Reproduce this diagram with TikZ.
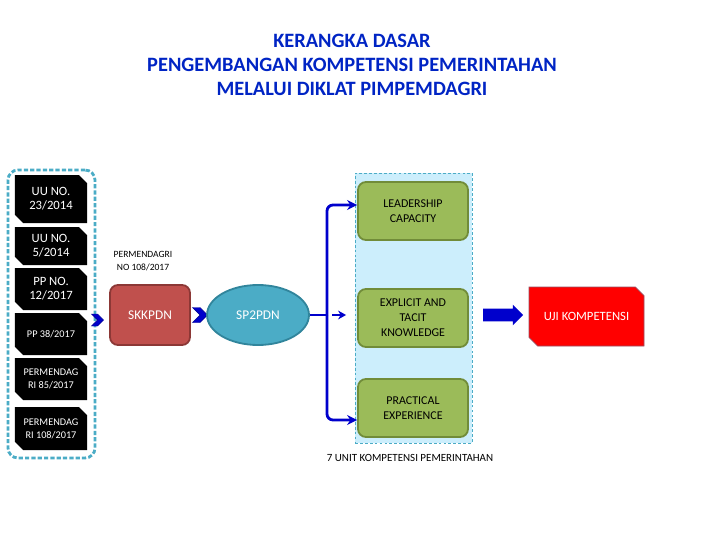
\documentclass[tikz,border=0pt]{standalone}
\usepackage{fontspec}
\setmainfont{Carlito}
\usetikzlibrary{positioning,arrows.meta,shapes.misc,shapes.symbols,shapes.arrows,shapes.geometric}
\definecolor{ttlblue}{RGB}{0,36,196}
\definecolor{frmcyan}{RGB}{75,172,198}
\definecolor{spdark}{RGB}{49,133,156}
\definecolor{brick}{RGB}{192,80,77}
\definecolor{brickdark}{RGB}{140,56,54}
\definecolor{olive}{RGB}{155,187,89}
\definecolor{olivedark}{RGB}{113,140,57}
\definecolor{paleaqua}{RGB}{204,238,252}
\definecolor{flowblue}{RGB}{0,0,204}
\definecolor{ujired}{RGB}{255,0,0}
\definecolor{ujiedge}{RGB}{150,80,100}
\tikzset{
  ttl/.style={font=\bfseries\fontsize{14.5}{17}\selectfont,text=ttlblue,align=center},
  frm/.style={draw=frmcyan,line width=2pt,dash pattern=on 3pt off 1.5pt,rounded corners=2.5mm,minimum width=21.75mm,minimum height=72mm},
  law/.style={chamfered rectangle,chamfered rectangle corners={north east,south west},chamfered rectangle angle=45,chamfered rectangle xsep=0.9mm,fill=black,text=white,minimum width=18mm,minimum height=10.5mm,inner sep=0pt,align=center,font=\fontsize{9}{10}\selectfont},
  lawsm/.style={law,font=\fontsize{7.3}{9.2}\selectfont},
  chev/.style={signal,signal to=east,signal from=west,fill=flowblue,draw=flowblue!70!black,line width=0.3pt,inner sep=0pt,minimum width=3.5mm,minimum height=3.75mm},
  lbl/.style={font=\fontsize{6.8}{9.2}\selectfont,align=center},
  skk/.style={draw=brickdark,fill=brick,line width=1.3pt,rounded corners=2mm,minimum width=20mm,minimum height=15mm,text=white,font=\fontsize{9.5}{11}\selectfont},
  sp/.style={ellipse,draw=spdark,fill=frmcyan,line width=1.3pt,minimum width=25.5mm,minimum height=15mm,inner sep=0pt,text=white,font=\fontsize{9.5}{11}\selectfont},
  panel/.style={draw=frmcyan,fill=paleaqua,line width=0.6pt,dash pattern=on 2pt off 1.5pt,minimum width=29.25mm,minimum height=67.5mm},
  unitbox/.style={draw=olivedark,fill=olive,line width=1.3pt,rounded corners=2mm,minimum width=27.5mm,minimum height=14.5mm,align=center,font=\fontsize{8.5}{10.7}\selectfont},
  caplbl/.style={font=\fontsize{7.8}{9}\selectfont},
  bigarrow/.style={single arrow,fill=flowblue,inner xsep=0pt,inner ysep=1.5mm,minimum height=10mm,single arrow head extend=1mm},
  uji/.style={chamfered rectangle,chamfered rectangle corners={north east,south west},chamfered rectangle angle=45,chamfered rectangle xsep=1.5mm,fill=ujired,draw=ujiedge,line width=0.5pt,minimum width=28.75mm,minimum height=14.75mm,inner sep=0pt,text=white,font=\fontsize{9}{11}\selectfont},
  flow/.style={draw=flowblue,line width=2pt}
}
\begin{document}
\begin{tikzpicture}[x=0.25mm,y=-0.25mm]
  \useasboundingbox (0,0) rectangle (720,540);
  \node[ttl] (title) at (352,65) {KERANGKA DASAR\\PENGEMBANGAN KOMPETENSI PEMERINTAHAN\\MELALUI DIKLAT PIMPEMDAGRI};
  % dasar hukum
  \node[frm] (hukum) at (51.5,314) {};
  \node[law,minimum height=12mm] (uu1) at (51,199) {UU NO.\\23/2014};
  \node[law,minimum height=9.5mm] (uu2) at (51,246) {UU NO.\\5/2014};
  \node[law] (pp1) at (51,289) {PP NO.\\12/2017};
  \node[lawsm] (pp2) at (51,334) {PP 38/2017};
  \node[lawsm] (pm1) at (51,379) {PERMENDAG\\RI 85/2017};
  \node[lawsm,minimum height=10.75mm] (pm2) at (51,428.5) {PERMENDAG\\RI 108/2017};
  \node[chev,minimum width=2.2mm,minimum height=3mm] (ch1) at (97.5,320) {};
  % standar
  \node[lbl] (permen) at (143,261.5) {PERMENDAGRI\\NO 108/2017};
  \node[skk] (skk) at (150,315) {SKKPDN};
  \node[chev] (ch2) at (200,315) {};
  \node[sp] (sp) at (258,315) {SP2PDN};
  % unit kompetensi
  \node[panel] (unit) at (413.5,308) {};
  \node[unitbox] (lead) at (413,211) {LEADERSHIP\\CAPACITY};
  \node[unitbox] (expl) at (413,318) {EXPLICIT AND\\TACIT\\KNOWLEDGE};
  \node[unitbox] (prac) at (413,408) {PRACTICAL\\EXPERIENCE};
  \node[caplbl] (capt) at (410,458) {7 UNIT KOMPETENSI PEMERINTAHAN};
  \node[bigarrow] (go) at (500,315) {};
  \node[uji] (uji) at (586.5,316.5) {UJI KOMPETENSI};
  % percabangan
  \coordinate (jm) at (327,315); \coordinate (jt) at (327,205); \coordinate (jb) at (327,420);
  \draw[flow] (sp.east) -- (jm);
  \draw[flow,rounded corners=1.5mm,-{Stealth[length=2.5mm,width=2.5mm]}] (jm) -- (jt) -- (lead.west |- jt);
  \draw[flow,rounded corners=1.5mm,-{Stealth[length=2.5mm,width=2.5mm]}] (jm) -- (jb) -- (prac.west |- jb);
  \draw[flow,-{Stealth[length=2mm,width=2.2mm]},shorten >=2.75mm] ([xshift=1.25mm]jm) -- (expl.west |- jm);
\end{tikzpicture}
\end{document}
